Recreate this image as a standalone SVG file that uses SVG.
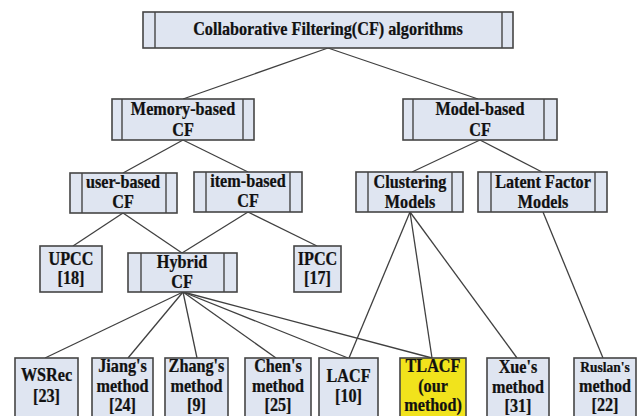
<svg xmlns="http://www.w3.org/2000/svg" width="637" height="416" viewBox="0 0 637 416">
<style>
.b{fill:#dfe5f1;stroke:#454545;stroke-width:1.6}
.y{fill:#f1e31c;stroke:#454545;stroke-width:1.6}
.i{stroke:#454545;stroke-width:1.4;fill:none}
.c line{stroke:#404040;stroke-width:1.3}
text{font-family:'Liberation Serif','Times New Roman',serif;font-weight:bold;font-size:18px;fill:#111;stroke:#111;stroke-width:0.25;text-anchor:middle}
.s{font-size:15px}
</style>
<rect width="637" height="416" fill="#fff"/>
<g class="c" id="connectors">
<line x1="328" y1="48" x2="183" y2="99"/>
<line x1="328" y1="48" x2="478" y2="99"/>
<line x1="183" y1="140" x2="123" y2="173"/>
<line x1="183" y1="140" x2="248" y2="172"/>
<line x1="480" y1="140" x2="412" y2="172"/>
<line x1="480" y1="140" x2="542" y2="172"/>
<line x1="123" y1="213" x2="73" y2="246"/>
<line x1="123" y1="213" x2="182" y2="253"/>
<line x1="248" y1="212" x2="182" y2="253"/>
<line x1="248" y1="212" x2="317" y2="246"/>
<line x1="183" y1="292" x2="45" y2="358"/>
<line x1="183" y1="292" x2="128" y2="358"/>
<line x1="183" y1="292" x2="197" y2="358"/>
<line x1="183" y1="292" x2="276" y2="358"/>
<line x1="183" y1="292" x2="348" y2="358"/>
<line x1="183" y1="292" x2="432" y2="358"/>
<line x1="410" y1="212" x2="349" y2="358"/>
<line x1="410" y1="212" x2="432" y2="358"/>
<line x1="410" y1="212" x2="517" y2="358"/>
<line x1="543" y1="212" x2="603" y2="358"/>
</g>
<g id="cf">
<rect class="b" x="143" y="12" width="370" height="36"/>
<line class="i" x1="155" y1="12" x2="155" y2="48"/><line class="i" x1="502" y1="12" x2="502" y2="48"/>
<text transform="translate(328 35) scale(.9 1)">Collaborative Filtering(CF) algorithms</text>
</g>
<g id="memory">
<rect class="b" x="112" y="99" width="142" height="41"/>
<line class="i" x1="122" y1="99" x2="122" y2="140"/><line class="i" x1="243" y1="99" x2="243" y2="140"/>
<text transform="translate(183 115) scale(.9 1)">Memory-based<tspan x="0" dy="21">CF</tspan></text>
</g>
<g id="model">
<rect class="b" x="403" y="99" width="154" height="41"/>
<line class="i" x1="413" y1="99" x2="413" y2="140"/><line class="i" x1="544" y1="99" x2="544" y2="140"/>
<text transform="translate(480 115) scale(.9 1)">Model-based<tspan x="0" dy="21">CF</tspan></text>
</g>
<g id="user">
<rect class="b" x="70" y="173" width="107" height="40"/>
<line class="i" x1="82" y1="173" x2="82" y2="213"/><line class="i" x1="166" y1="173" x2="166" y2="213"/>
<text transform="translate(123 188) scale(.9 1)">user-based<tspan x="0" dy="20">CF</tspan></text>
</g>
<g id="item">
<rect class="b" x="194" y="172" width="108" height="40"/>
<line class="i" x1="206" y1="172" x2="206" y2="212"/><line class="i" x1="290" y1="172" x2="290" y2="212"/>
<text transform="translate(248 187) scale(.9 1)">item-based<tspan x="0" dy="20">CF</tspan></text>
</g>
<g id="clustering">
<rect class="b" x="356" y="172" width="107" height="40"/>
<line class="i" x1="368" y1="172" x2="368" y2="212"/><line class="i" x1="452" y1="172" x2="452" y2="212"/>
<text transform="translate(410 188) scale(.9 1)">Clustering<tspan x="0" dy="20">Models</tspan></text>
</g>
<g id="latent">
<rect class="b" x="478" y="172" width="129" height="40"/>
<line class="i" x1="491" y1="172" x2="491" y2="212"/><line class="i" x1="595" y1="172" x2="595" y2="212"/>
<text transform="translate(543 188) scale(.9 1)">Latent Factor<tspan x="0" dy="20">Models</tspan></text>
</g>
<g id="upcc">
<rect class="b" x="40" y="246" width="62" height="46"/>
<text transform="translate(71 265) scale(.9 1)">UPCC<tspan x="0" dy="19">[18]</tspan></text>
</g>
<g id="hybrid">
<rect class="b" x="128" y="253" width="109" height="39"/>
<line class="i" x1="141" y1="253" x2="141" y2="292"/><line class="i" x1="224" y1="253" x2="224" y2="292"/>
<text transform="translate(182 268) scale(.9 1)">Hybrid<tspan x="0" dy="20">CF</tspan></text>
</g>
<g id="ipcc">
<rect class="b" x="294" y="246" width="47" height="46"/>
<text transform="translate(317.5 265) scale(.9 1)">IPCC<tspan x="0" dy="19">[17]</tspan></text>
</g>
<g id="wsrec">
<rect class="b" x="15" y="358" width="63" height="70"/>
<text transform="translate(46.5 381) scale(.9 1)">WSRec<tspan x="0" dy="21">[23]</tspan></text>
</g>
<g id="jiang">
<rect class="b" x="92" y="358" width="61" height="70"/>
<text transform="translate(122.5 372) scale(.9 1)">Jiang's<tspan x="0" dy="20">method</tspan><tspan x="0" dy="19">[24]</tspan></text>
</g>
<g id="zhang">
<rect class="b" x="165" y="358" width="63" height="70"/>
<text transform="translate(196.5 372) scale(.9 1)">Zhang's<tspan x="0" dy="20">method</tspan><tspan x="0" dy="19">[9]</tspan></text>
</g>
<g id="chen">
<rect class="b" x="245" y="358" width="66" height="70"/>
<text transform="translate(278 372) scale(.9 1)">Chen's<tspan x="0" dy="20">method</tspan><tspan x="0" dy="19">[25]</tspan></text>
</g>
<g id="lacf">
<rect class="b" x="319" y="358" width="59" height="70"/>
<text transform="translate(348.5 382) scale(.9 1)">LACF<tspan x="0" dy="20">[10]</tspan></text>
</g>
<g id="tlacf">
<rect class="y" x="400" y="358" width="66" height="70"/>
<text transform="translate(433 372) scale(.9 1)">TLACF<tspan x="0" dy="20">(our</tspan><tspan x="0" dy="19">method)</tspan></text>
</g>
<g id="xue">
<rect class="b" x="487" y="358" width="62" height="70"/>
<text transform="translate(518 373) scale(.9 1)">Xue's<tspan x="0" dy="20">method</tspan><tspan x="0" dy="19">[31]</tspan></text>
</g>
<g id="ruslan">
<rect class="b" x="574" y="358" width="62" height="70"/>
<text transform="translate(605 372) scale(.9 1)"><tspan class="s">Ruslan's</tspan><tspan x="0" dy="20">method</tspan><tspan x="0" dy="19">[22]</tspan></text>
</g>
</svg>
